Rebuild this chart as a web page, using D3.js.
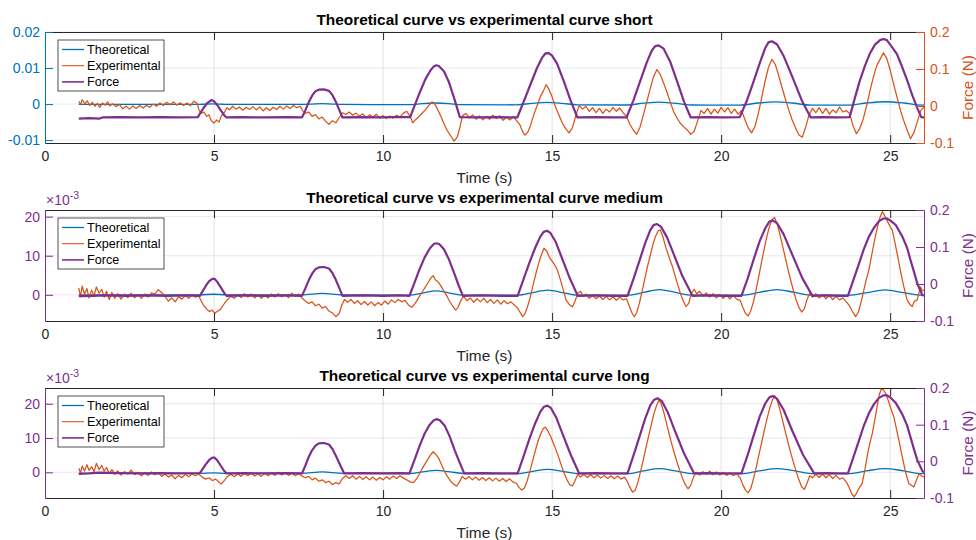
<!DOCTYPE html>
<html>
<head>
<meta charset="utf-8">
<script src="https://cdn.jsdelivr.net/npm/d3@7"></script>
<style>
  body { margin: 0; background: #fff; }
  svg { display: block; font-family: "Liberation Sans", Arial, sans-serif; }
</style>
</head>
<body>
<div id="chart"></div>
<script>
// ---- shared axis values ----
const timeDomain = [0, 26];
const xTicks = [0, 5, 10, 15, 20, 25];
const forceDomain = [-0.1, 0.2];
const forceTicks = [-0.1, 0, 0.1, 0.2];
const seriesNames = ["Theoretical", "Experimental", "Force"];

// ---- panel 1 : short (left values in 1e-3 m) ----
const theoShort = [[1.0,-0.1],[4.55,-0.1],[4.75,0.0],[4.95,0.05],[5.15,0.0],[5.4,-0.1],[7.6,-0.1],[7.9,0.0],[8.2,0.1],[8.5,0.0],[8.8,-0.1],[10.8,-0.15],[11.15,0.15],[11.55,0.3],[11.95,0.15],[12.3,-0.15],[13.95,-0.2],[14.4,0.2],[14.85,0.45],[15.3,0.2],[15.75,-0.2],[17.2,-0.25],[17.7,0.25],[18.15,0.55],[18.6,0.25],[19.1,-0.25],[20.55,-0.3],[21.1,0.3],[21.6,0.6],[22.1,0.3],[22.65,-0.3],[23.8,-0.3],[24.3,0.3],[24.85,0.65],[25.4,0.3],[25.9,-0.3],[26.0,-0.3]];

const expShort = [[1.0,0.8],[1.05,-0.2],[1.1,1.2],[1.18,0.1],[1.25,0.9],[1.32,-0.4],[1.4,0.5],[1.48,-0.6],[1.55,0.2],[1.62,-0.9],[1.7,0.3],[1.78,-0.3],[1.85,0.6],[1.92,-0.5],[2.0,0.1],[2.1,-0.7],[2.2,-0.1],[2.3,-1.3],[2.4,-0.6],[2.5,-1.4],[2.6,-0.5],[2.7,-1.2],[2.8,-0.4],[2.9,-1.1],[3.0,-0.3],[3.1,-0.9],[3.2,0.0],[3.3,-0.6],[3.4,0.3],[3.5,-0.4],[3.6,0.5],[3.7,-0.2],[3.8,0.6],[3.9,-0.3],[4.0,0.4],[4.1,-0.4],[4.2,0.3],[4.3,-0.5],[4.4,0.8],[4.5,0.2],[4.55,-1.5],[4.62,-2.6],[4.7,-2.2],[4.78,-3.4],[4.85,-3.0],[4.92,-4.6],[5.0,-5.3],[5.08,-4.4],[5.15,-5.0],[5.22,-3.2],[5.3,-2.4],[5.38,-1.0],[5.46,-1.6],[5.55,-0.6],[5.65,-1.4],[5.75,-0.8],[5.85,-1.7],[5.95,-0.9],[6.05,-1.5],[6.15,-0.7],[6.25,-1.6],[6.35,-0.8],[6.45,-1.9],[6.55,-1.0],[6.65,-1.8],[6.75,-0.9],[6.85,-1.5],[6.95,-0.6],[7.05,-1.4],[7.15,-0.5],[7.25,-1.2],[7.35,-0.4],[7.45,-1.0],[7.55,-0.6],[7.62,-1.8],[7.7,-2.6],[7.8,-2.2],[7.9,-3.4],[8.0,-2.9],[8.1,-4.1],[8.2,-3.6],[8.3,-4.8],[8.4,-5.6],[8.5,-4.6],[8.6,-5.2],[8.7,-3.8],[8.8,-2.4],[8.9,-2.9],[9.0,-2.2],[9.1,-3.1],[9.2,-2.5],[9.3,-3.4],[9.4,-2.7],[9.5,-3.8],[9.6,-3.0],[9.7,-3.6],[9.8,-2.8],[9.9,-3.9],[10.0,-3.2],[10.1,-4.0],[10.2,-3.3],[10.3,-3.9],[10.4,-3.1],[10.5,-3.6],[10.6,-2.5],[10.7,-2.0],[10.8,-3.4],[10.88,-5.2],[10.95,-4.4],[11.05,-3.6],[11.15,-2.6],[11.25,-1.6],[11.35,-0.4],[11.45,0.6],[11.52,0.2],[11.6,-1.2],[11.7,-3.2],[11.8,-5.4],[11.9,-7.4],[12.0,-8.8],[12.1,-10.3],[12.2,-9.0],[12.28,-6.2],[12.35,-3.2],[12.45,-2.6],[12.55,-3.8],[12.65,-3.0],[12.75,-4.2],[12.85,-3.3],[12.95,-4.4],[13.05,-3.4],[13.15,-4.2],[13.25,-3.1],[13.35,-4.0],[13.45,-3.2],[13.55,-4.5],[13.65,-3.6],[13.75,-4.4],[13.85,-3.5],[13.95,-4.6],[14.05,-5.8],[14.12,-7.5],[14.2,-8.6],[14.28,-7.8],[14.35,-6.2],[14.45,-3.2],[14.55,-0.6],[14.65,2.0],[14.75,3.8],[14.82,5.4],[14.9,4.2],[15.0,2.0],[15.1,-0.8],[15.2,-3.0],[15.3,-5.2],[15.4,-6.8],[15.5,-8.0],[15.6,-6.6],[15.7,-3.2],[15.8,-0.4],[15.9,-1.4],[16.0,-0.6],[16.1,-2.0],[16.2,-1.0],[16.3,-2.4],[16.4,-1.2],[16.5,-2.6],[16.6,-1.4],[16.7,-2.2],[16.8,-0.9],[16.9,-2.0],[17.0,-1.1],[17.1,-2.4],[17.2,-3.4],[17.3,-5.6],[17.4,-7.2],[17.5,-8.4],[17.6,-6.4],[17.7,-3.0],[17.8,0.6],[17.9,4.2],[18.0,7.6],[18.1,9.6],[18.2,8.2],[18.3,5.8],[18.4,3.2],[18.5,0.4],[18.6,-2.2],[18.7,-4.0],[18.8,-5.4],[18.9,-6.4],[19.0,-7.2],[19.1,-8.4],[19.2,-7.6],[19.3,-4.8],[19.4,-1.8],[19.5,-2.6],[19.6,-1.2],[19.7,-2.8],[19.8,-1.4],[19.9,-2.5],[20.0,-0.9],[20.1,-2.2],[20.2,-1.0],[20.3,-2.6],[20.4,-1.4],[20.5,-2.8],[20.6,-1.8],[20.7,-4.2],[20.8,-6.6],[20.9,-8.0],[21.0,-6.2],[21.1,-2.6],[21.2,1.8],[21.3,6.4],[21.4,10.2],[21.5,12.4],[21.6,11.0],[21.7,8.0],[21.8,4.6],[21.9,1.4],[22.0,-1.6],[22.1,-4.4],[22.2,-6.6],[22.3,-8.6],[22.4,-9.2],[22.5,-6.4],[22.6,-3.0],[22.7,-1.2],[22.8,-2.4],[22.9,-1.0],[23.0,-2.6],[23.1,-1.2],[23.2,-2.8],[23.3,-1.6],[23.4,-2.4],[23.5,-0.8],[23.6,-2.2],[23.7,-1.8],[23.8,-2.6],[23.9,-6.0],[24.0,-8.2],[24.1,-6.8],[24.2,-4.2],[24.3,-0.6],[24.4,3.6],[24.5,7.4],[24.6,10.6],[24.7,12.4],[24.8,14.2],[24.9,12.6],[25.0,9.4],[25.1,5.6],[25.2,2.0],[25.3,-1.6],[25.4,-4.6],[25.5,-7.2],[25.6,-9.6],[25.7,-8.0],[25.8,-5.0],[25.9,-1.8],[26.0,-0.8]];

const forceShort = [[1.0,-0.034],[1.3,-0.033],[1.6,-0.034],[1.7,-0.031],[2.2,-0.030],[2.8,-0.031],[3.4,-0.030],[4.0,-0.031],[4.52,-0.030],[4.6,-0.018],[4.7,-0.004],[4.8,0.008],[4.92,0.016],[5.0,0.013],[5.1,0.002],[5.2,-0.012],[5.3,-0.025],[5.37,-0.031],[5.8,-0.030],[6.5,-0.031],[7.2,-0.030],[7.6,-0.031],[7.7,-0.012],[7.8,0.010],[7.9,0.028],[8.0,0.040],[8.1,0.044],[8.25,0.045],[8.4,0.041],[8.5,0.030],[8.6,0.012],[8.7,-0.010],[8.8,-0.031],[9.3,-0.030],[9.9,-0.031],[10.4,-0.030],[10.8,-0.030],[10.95,0.005],[11.1,0.040],[11.25,0.072],[11.4,0.096],[11.5,0.107],[11.57,0.110],[11.65,0.108],[11.8,0.094],[11.95,0.064],[12.1,0.022],[12.27,-0.030],[12.8,-0.031],[13.4,-0.030],[13.97,-0.031],[14.15,0.010],[14.35,0.056],[14.55,0.102],[14.7,0.130],[14.8,0.142],[14.9,0.143],[15.0,0.136],[15.15,0.114],[15.35,0.066],[15.55,0.014],[15.75,-0.031],[16.3,-0.030],[16.8,-0.031],[17.2,-0.031],[17.4,0.014],[17.6,0.066],[17.8,0.118],[17.95,0.150],[18.05,0.162],[18.15,0.164],[18.3,0.155],[18.5,0.118],[18.7,0.066],[18.9,0.012],[19.1,-0.031],[19.6,-0.030],[20.1,-0.031],[20.55,-0.030],[20.75,0.012],[20.95,0.064],[21.15,0.118],[21.3,0.156],[21.4,0.172],[21.5,0.175],[21.65,0.167],[21.85,0.135],[22.1,0.080],[22.4,0.012],[22.65,-0.031],[23.0,-0.030],[23.5,-0.031],[23.8,-0.030],[23.95,0.020],[24.1,0.068],[24.25,0.108],[24.4,0.142],[24.55,0.166],[24.7,0.178],[24.8,0.181],[24.9,0.178],[25.05,0.160],[25.2,0.140],[25.36,0.104],[25.5,0.070],[25.65,0.030],[25.8,-0.005],[25.92,-0.030],[26.0,-0.031]];

// ---- panel 2 : medium ----
const theoMedium = [[1.0,0.0],[4.58,0.0],[4.98,0.15],[5.37,0.0],[7.6,-0.05],[8.2,0.35],[8.8,-0.05],[10.78,-0.1],[11.17,0.45],[11.57,1.0],[11.97,0.45],[12.36,-0.1],[13.98,-0.1],[14.42,0.55],[14.87,1.2],[15.32,0.55],[15.76,-0.1],[17.23,-0.1],[17.7,0.6],[18.17,1.35],[18.65,0.6],[19.15,-0.1],[20.6,-0.1],[21.12,0.6],[21.65,1.35],[22.18,0.6],[22.7,-0.1],[23.78,-0.1],[24.3,0.55],[24.85,1.25],[25.4,0.55],[25.95,-0.1],[26.0,-0.1]];

const expMedium = [[1.0,1.8],[1.05,-0.5],[1.1,2.2],[1.17,0.2],[1.24,1.6],[1.3,-0.8],[1.38,1.2],[1.45,-0.3],[1.52,2.0],[1.6,0.4],[1.68,1.4],[1.75,-0.6],[1.82,0.9],[1.9,-1.2],[1.98,0.6],[2.06,-0.9],[2.15,0.3],[2.25,-1.1],[2.35,0.2],[2.45,-0.7],[2.55,0.4],[2.65,-0.8],[2.75,0.1],[2.85,-0.9],[2.95,0.2],[3.05,-0.6],[3.15,0.5],[3.25,0.2],[3.35,1.3],[3.45,0.6],[3.55,-0.4],[3.65,-1.6],[3.75,-0.8],[3.85,-1.8],[3.95,-0.5],[4.05,-1.1],[4.15,-0.2],[4.25,-0.9],[4.35,0.0],[4.45,-0.6],[4.55,-0.3],[4.62,-1.6],[4.7,-2.8],[4.78,-3.6],[4.86,-4.3],[4.94,-3.9],[5.02,-4.7],[5.1,-4.2],[5.18,-3.8],[5.26,-2.8],[5.34,-1.8],[5.42,-1.0],[5.5,-0.4],[5.6,-0.9],[5.7,0.1],[5.8,-0.7],[5.9,0.3],[6.0,-0.6],[6.1,0.2],[6.2,-0.8],[6.3,0.0],[6.4,-0.9],[6.5,-0.1],[6.6,-0.8],[6.7,0.2],[6.8,-0.6],[6.9,0.3],[7.0,-0.5],[7.1,0.1],[7.2,-0.7],[7.3,0.4],[7.4,-0.4],[7.5,0.2],[7.6,-0.8],[7.7,-1.6],[7.8,-2.2],[7.9,-1.8],[8.0,-2.8],[8.1,-2.4],[8.2,-3.4],[8.3,-3.0],[8.4,-4.2],[8.5,-4.6],[8.6,-5.6],[8.7,-4.8],[8.78,-2.6],[8.86,-1.2],[8.95,-1.9],[9.05,-1.2],[9.15,-2.2],[9.25,-1.5],[9.35,-2.5],[9.45,-1.7],[9.55,-2.6],[9.65,-1.8],[9.75,-2.8],[9.85,-2.0],[9.95,-2.6],[10.05,-1.6],[10.15,-2.4],[10.25,-1.3],[10.35,-2.0],[10.45,-1.2],[10.55,-1.8],[10.65,-1.4],[10.75,-2.6],[10.85,-3.2],[10.95,-2.2],[11.05,-0.8],[11.15,0.6],[11.25,2.0],[11.35,3.4],[11.42,4.4],[11.48,4.9],[11.55,3.8],[11.62,3.4],[11.7,2.4],[11.78,1.2],[11.87,0.0],[11.95,-1.4],[12.05,-2.8],[12.15,-3.9],[12.22,-3.2],[12.3,-1.4],[12.38,-0.4],[12.48,-1.5],[12.58,-0.8],[12.68,-1.9],[12.78,-1.0],[12.88,-1.8],[12.98,-0.9],[13.08,-2.0],[13.18,-1.2],[13.28,-2.2],[13.38,-1.3],[13.48,-2.4],[13.58,-1.5],[13.68,-2.3],[13.78,-1.8],[13.88,-2.6],[13.98,-3.4],[14.06,-4.6],[14.13,-5.6],[14.2,-4.8],[14.28,-2.8],[14.36,-0.4],[14.44,2.6],[14.52,5.4],[14.6,8.0],[14.68,10.2],[14.76,11.9],[14.84,11.2],[14.92,9.6],[15.0,8.6],[15.08,7.6],[15.16,6.2],[15.24,4.0],[15.32,1.6],[15.41,-1.3],[15.5,-2.4],[15.6,-3.1],[15.68,-1.6],[15.76,0.4],[15.84,0.9],[15.92,-0.4],[16.0,0.2],[16.1,-0.9],[16.2,-0.2],[16.3,-1.0],[16.4,-0.3],[16.5,-1.2],[16.6,-0.4],[16.7,-1.3],[16.8,-0.5],[16.9,-1.4],[17.0,-0.6],[17.1,-1.3],[17.2,-1.0],[17.28,-2.8],[17.36,-4.6],[17.43,-5.6],[17.5,-4.6],[17.58,-2.2],[17.66,0.8],[17.74,4.0],[17.82,7.2],[17.9,10.0],[17.98,12.8],[18.06,15.0],[18.14,16.4],[18.2,16.6],[18.28,14.8],[18.36,12.2],[18.46,9.6],[18.56,7.2],[18.64,4.8],[18.72,2.4],[18.8,0.2],[18.88,-1.6],[18.96,-3.0],[19.04,-2.2],[19.12,0.4],[19.2,1.4],[19.28,0.2],[19.36,0.9],[19.46,-0.3],[19.56,0.5],[19.66,-0.6],[19.76,0.3],[19.86,-0.8],[19.96,0.1],[20.06,-0.9],[20.16,-0.1],[20.26,-1.0],[20.36,-0.2],[20.46,-1.1],[20.56,-1.4],[20.64,-3.2],[20.72,-4.8],[20.8,-5.4],[20.88,-4.0],[20.96,-1.6],[21.04,1.6],[21.12,5.0],[21.2,8.6],[21.28,12.0],[21.36,15.2],[21.44,17.8],[21.52,19.4],[21.58,19.8],[21.66,18.0],[21.74,15.4],[21.82,12.4],[21.9,9.4],[21.98,6.4],[22.06,3.6],[22.14,1.0],[22.22,-1.4],[22.3,-3.2],[22.38,-4.4],[22.46,-3.6],[22.54,-1.2],[22.62,0.4],[22.7,-0.6],[22.8,0.3],[22.9,-0.8],[23.0,0.0],[23.1,-1.0],[23.2,-0.2],[23.3,-1.2],[23.4,-0.4],[23.5,-1.3],[23.6,-0.8],[23.7,-1.8],[23.78,-2.6],[23.88,-4.2],[23.98,-5.6],[24.06,-4.4],[24.14,-1.8],[24.22,1.2],[24.3,4.2],[24.37,6.4],[24.45,10.0],[24.53,13.6],[24.61,16.8],[24.69,19.6],[24.77,21.3],[24.85,20.0],[24.93,18.6],[25.0,17.4],[25.06,16.6],[25.13,13.8],[25.2,10.8],[25.26,8.1],[25.33,5.0],[25.4,2.2],[25.5,-1.3],[25.58,-2.4],[25.65,-3.0],[25.72,-1.6],[25.8,-1.3],[25.86,0.8],[25.9,2.0],[25.95,1.0],[26.0,1.2]];

const forceMedium = [[1.0,-0.033],[1.4,-0.032],[1.8,-0.031],[2.4,-0.032],[3.0,-0.031],[3.6,-0.032],[4.2,-0.031],[4.58,-0.032],[4.66,-0.020],[4.75,-0.006],[4.85,0.007],[4.95,0.014],[5.02,0.014],[5.1,0.005],[5.2,-0.009],[5.3,-0.024],[5.37,-0.032],[5.9,-0.031],[6.5,-0.032],[7.1,-0.031],[7.6,-0.032],[7.7,-0.012],[7.8,0.010],[7.9,0.028],[8.0,0.040],[8.1,0.045],[8.25,0.046],[8.4,0.042],[8.5,0.030],[8.6,0.012],[8.7,-0.010],[8.8,-0.032],[9.4,-0.031],[10.0,-0.032],[10.5,-0.031],[10.78,-0.032],[10.93,0.004],[11.08,0.040],[11.23,0.072],[11.38,0.096],[11.5,0.108],[11.57,0.110],[11.66,0.108],[11.8,0.094],[11.95,0.066],[12.1,0.030],[12.22,0.000],[12.36,-0.032],[12.9,-0.031],[13.5,-0.032],[13.98,-0.032],[14.15,0.012],[14.33,0.058],[14.5,0.098],[14.65,0.128],[14.75,0.141],[14.85,0.144],[14.95,0.138],[15.1,0.115],[15.3,0.068],[15.52,0.016],[15.76,-0.032],[16.3,-0.031],[16.8,-0.032],[17.23,-0.032],[17.4,0.012],[17.58,0.062],[17.75,0.110],[17.9,0.145],[18.0,0.159],[18.1,0.162],[18.22,0.155],[18.4,0.126],[18.6,0.080],[18.85,0.022],[19.15,-0.032],[19.6,-0.031],[20.1,-0.032],[20.6,-0.032],[20.78,0.014],[20.96,0.066],[21.14,0.116],[21.3,0.150],[21.42,0.168],[21.52,0.172],[21.65,0.165],[21.85,0.134],[22.1,0.080],[22.4,0.016],[22.7,-0.032],[23.1,-0.031],[23.5,-0.032],[23.75,-0.032],[23.9,0.008],[24.08,0.056],[24.22,0.094],[24.37,0.128],[24.52,0.152],[24.67,0.170],[24.8,0.177],[24.9,0.177],[25.0,0.172],[25.16,0.160],[25.36,0.128],[25.5,0.098],[25.6,0.065],[25.7,0.034],[25.8,0.002],[25.95,-0.030],[26.0,-0.032]];

// ---- panel 3 : long ----
const theoLong = [[1.0,-0.3],[4.58,-0.3],[4.98,-0.15],[5.37,-0.3],[7.6,-0.3],[8.2,0.1],[8.8,-0.3],[10.78,-0.35],[11.17,0.15],[11.58,0.55],[11.98,0.15],[12.4,-0.35],[13.98,-0.4],[14.42,0.3],[14.87,0.85],[15.32,0.3],[15.8,-0.4],[17.23,-0.4],[17.7,0.4],[18.17,1.05],[18.65,0.4],[19.2,-0.4],[20.6,-0.4],[21.12,0.4],[21.65,1.1],[22.18,0.4],[22.75,-0.4],[23.75,-0.4],[24.3,0.4],[24.85,1.1],[25.4,0.4],[25.95,-0.4],[26.0,-0.4]];

const expLong = [[1.0,1.2],[1.05,-0.2],[1.1,1.8],[1.17,0.4],[1.24,2.2],[1.3,0.6],[1.38,1.6],[1.45,0.2],[1.52,2.6],[1.6,0.8],[1.68,2.0],[1.75,0.3],[1.82,1.4],[1.9,-0.4],[1.98,0.8],[2.06,-0.6],[2.15,0.4],[2.25,-0.8],[2.35,0.2],[2.45,-0.5],[2.55,0.6],[2.65,-0.7],[2.75,0.0],[2.85,-1.0],[2.95,-0.2],[3.05,-0.9],[3.15,0.1],[3.25,-0.7],[3.35,-0.1],[3.45,-1.2],[3.55,-0.5],[3.65,-1.4],[3.75,-0.8],[3.85,-1.9],[3.95,-0.9],[4.05,-1.6],[4.15,-0.6],[4.25,-1.3],[4.35,-0.4],[4.45,-1.0],[4.55,-0.5],[4.65,-1.4],[4.75,-2.0],[4.85,-1.6],[4.95,-2.4],[5.05,-2.0],[5.15,-2.9],[5.22,-3.4],[5.3,-2.4],[5.4,-1.2],[5.5,-0.6],[5.6,-1.3],[5.7,-0.4],[5.8,-1.2],[5.9,-0.3],[6.0,-1.0],[6.1,-0.2],[6.2,-1.1],[6.3,-0.4],[6.4,-1.2],[6.5,-0.3],[6.6,-1.0],[6.7,-0.2],[6.8,-0.9],[6.9,0.0],[7.0,-0.8],[7.1,-0.1],[7.2,-0.9],[7.3,-0.2],[7.4,-1.0],[7.5,-0.4],[7.6,-1.1],[7.7,-1.6],[7.8,-1.2],[7.9,-2.2],[8.0,-1.7],[8.1,-2.6],[8.2,-2.2],[8.3,-3.0],[8.4,-2.6],[8.5,-3.6],[8.6,-3.0],[8.7,-3.4],[8.8,-1.8],[8.9,-1.0],[9.0,-1.8],[9.1,-1.0],[9.2,-2.0],[9.3,-1.2],[9.4,-2.1],[9.5,-1.3],[9.6,-2.2],[9.7,-1.4],[9.8,-2.3],[9.9,-1.5],[10.0,-2.2],[10.1,-1.3],[10.2,-2.0],[10.3,-1.1],[10.4,-1.8],[10.5,-1.0],[10.6,-1.7],[10.7,-2.2],[10.8,-2.8],[10.9,-3.0],[11.0,-1.8],[11.1,0.0],[11.2,1.8],[11.3,3.4],[11.4,5.0],[11.48,6.0],[11.56,5.2],[11.64,4.2],[11.72,2.4],[11.8,0.6],[11.9,-1.2],[12.0,-2.6],[12.1,-3.6],[12.18,-4.0],[12.26,-2.8],[12.34,-1.2],[12.44,-2.0],[12.54,-1.2],[12.64,-2.2],[12.74,-1.4],[12.84,-2.3],[12.94,-1.5],[13.04,-2.4],[13.14,-1.6],[13.24,-2.5],[13.34,-1.7],[13.44,-2.6],[13.54,-1.8],[13.64,-2.7],[13.74,-1.9],[13.84,-2.8],[13.94,-3.2],[14.02,-4.4],[14.1,-5.2],[14.18,-4.6],[14.26,-2.6],[14.34,0.2],[14.42,3.2],[14.5,6.2],[14.58,9.0],[14.66,11.2],[14.74,12.8],[14.8,13.2],[14.88,12.0],[14.96,10.4],[15.04,8.4],[15.12,6.4],[15.2,4.2],[15.28,1.8],[15.36,-0.4],[15.44,-2.2],[15.52,-3.6],[15.6,-4.0],[15.68,-2.4],[15.76,-0.6],[15.84,-1.4],[15.94,-0.6],[16.04,-1.5],[16.14,-0.7],[16.24,-1.6],[16.34,-0.8],[16.44,-1.7],[16.54,-0.9],[16.64,-1.8],[16.74,-1.0],[16.84,-1.9],[16.94,-1.1],[17.04,-2.0],[17.14,-1.4],[17.22,-2.6],[17.3,-4.4],[17.38,-5.8],[17.46,-5.2],[17.54,-2.8],[17.62,0.4],[17.7,3.8],[17.78,7.4],[17.86,10.8],[17.94,14.2],[18.02,17.4],[18.1,19.8],[18.16,21.0],[18.22,20.2],[18.3,17.6],[18.38,14.4],[18.46,11.2],[18.54,8.2],[18.62,5.4],[18.7,2.8],[18.78,0.4],[18.86,-1.8],[18.94,-3.6],[19.02,-4.8],[19.1,-3.8],[19.18,-1.4],[19.26,0.0],[19.36,-0.8],[19.46,0.2],[19.56,-0.6],[19.66,0.3],[19.76,-0.7],[19.86,0.1],[19.96,-0.8],[20.06,0.0],[20.16,-0.9],[20.26,-0.2],[20.36,-1.0],[20.46,-0.4],[20.56,-1.6],[20.64,-3.6],[20.72,-5.2],[20.8,-6.0],[20.88,-4.6],[20.96,-1.8],[21.04,1.6],[21.12,5.2],[21.2,8.8],[21.28,12.4],[21.36,15.8],[21.44,18.8],[21.52,21.2],[21.58,22.4],[21.66,21.0],[21.74,18.2],[21.82,15.0],[21.9,11.8],[21.98,8.6],[22.06,5.6],[22.14,2.8],[22.22,0.2],[22.3,-2.2],[22.38,-4.2],[22.46,-5.0],[22.54,-3.2],[22.62,-1.0],[22.7,-1.6],[22.8,-0.6],[22.9,-1.5],[23.0,-0.5],[23.1,-1.6],[23.2,-0.7],[23.3,-1.8],[23.4,-0.9],[23.5,-2.0],[23.6,-1.6],[23.7,-2.8],[23.78,-4.3],[23.86,-6.2],[23.93,-7.2],[24.0,-6.2],[24.08,-4.6],[24.17,-3.3],[24.25,0.6],[24.32,4.8],[24.4,8.6],[24.47,11.3],[24.55,15.6],[24.62,19.6],[24.68,22.8],[24.74,24.4],[24.8,24.0],[24.86,23.2],[24.94,21.0],[25.02,18.6],[25.11,16.1],[25.2,12.0],[25.28,8.2],[25.36,4.4],[25.44,0.6],[25.55,-3.3],[25.62,-3.8],[25.7,-4.3],[25.78,-2.2],[25.85,-0.4],[25.92,-1.0],[26.0,-1.4]];

const forceLong = [[1.0,-0.034],[1.3,-0.033],[1.6,-0.031],[2.2,-0.032],[2.8,-0.033],[3.4,-0.032],[4.0,-0.033],[4.58,-0.032],[4.66,-0.021],[4.75,-0.009],[4.85,0.003],[4.95,0.010],[5.02,0.010],[5.1,0.002],[5.2,-0.012],[5.3,-0.026],[5.37,-0.033],[5.9,-0.032],[6.5,-0.033],[7.1,-0.032],[7.6,-0.033],[7.7,-0.012],[7.8,0.012],[7.9,0.030],[8.0,0.043],[8.1,0.049],[8.25,0.050],[8.4,0.046],[8.5,0.034],[8.6,0.016],[8.72,-0.008],[8.85,-0.033],[9.4,-0.032],[10.0,-0.033],[10.5,-0.032],[10.78,-0.033],[10.93,0.004],[11.08,0.042],[11.23,0.076],[11.38,0.100],[11.5,0.112],[11.58,0.115],[11.68,0.112],[11.82,0.098],[11.97,0.068],[12.12,0.030],[12.26,-0.002],[12.4,-0.033],[12.9,-0.032],[13.5,-0.033],[13.98,-0.033],[14.15,0.012],[14.33,0.062],[14.5,0.104],[14.65,0.135],[14.76,0.149],[14.86,0.152],[14.96,0.146],[15.12,0.120],[15.32,0.072],[15.55,0.018],[15.8,-0.033],[16.3,-0.032],[16.8,-0.033],[17.23,-0.033],[17.4,0.014],[17.58,0.066],[17.75,0.116],[17.9,0.152],[18.02,0.168],[18.12,0.172],[18.24,0.165],[18.42,0.134],[18.62,0.086],[18.9,0.022],[19.2,-0.033],[19.6,-0.032],[20.1,-0.033],[20.6,-0.033],[20.78,0.016],[20.96,0.070],[21.14,0.122],[21.3,0.157],[21.42,0.174],[21.52,0.178],[21.65,0.171],[21.85,0.140],[22.1,0.084],[22.42,0.018],[22.75,-0.033],[23.1,-0.032],[23.5,-0.033],[23.75,-0.033],[23.9,0.008],[24.08,0.058],[24.22,0.097],[24.37,0.131],[24.52,0.156],[24.67,0.173],[24.8,0.180],[24.9,0.180],[25.0,0.175],[25.16,0.160],[25.36,0.128],[25.5,0.098],[25.6,0.066],[25.7,0.034],[25.8,0.004],[25.95,-0.026],[26.0,-0.030]];

// colours (MATLAB default order + purple)
const blue = "#0072BD", orange = "#D95319", purple = "#7E2F8E", dark = "#262626";

// one entry per subplot
const panels = [
  { title: "Theoretical curve vs experimental curve short", top: 32, height: 111,
    leftDomain: [-10.8, 20], leftTicks: [-10, 0, 10, 20], leftFmt: v => String(v / 1000),
    exponent: false, leftColor: blue, rightColor: orange,
    theo: theoShort, exp: expShort, force: forceShort },
  { title: "Theoretical curve vs experimental curve medium", top: 210, height: 111,
    leftDomain: [-6.7, 21.7], leftTicks: [0, 10, 20], leftFmt: v => String(v),
    exponent: true, leftColor: purple, rightColor: purple,
    theo: theoMedium, exp: expMedium, force: forceMedium },
  { title: "Theoretical curve vs experimental curve long", top: 388, height: 110,
    leftDomain: [-7.5, 24.6], leftTicks: [0, 10, 20], leftFmt: v => String(v),
    exponent: true, leftColor: purple, rightColor: purple,
    theo: theoLong, exp: expLong, force: forceLong }
];

const width = 976, height = 540;
const plotLeft = 45, plotRight = 924;

const svg = d3.select("#chart")
  .append("svg")
    .attr("width", width)
    .attr("height", height);

const xScale = d3.scaleLinear()
  .domain(timeDomain)
  .range([plotLeft, plotRight]);

panels.forEach((p, i) => drawPanel(p, i));

/**
 * drawPanel
 *
 * Purpose: draws one yyaxis-style subplot (left displacement, right force).
 */
function drawPanel(p, i) {
  const top = p.top;
  const bottom = p.top + p.height;

  const yLeft = d3.scaleLinear().domain(p.leftDomain).range([bottom, top]);
  const yRight = d3.scaleLinear().domain(forceDomain).range([bottom, top]);

  const g = svg.append("g");

  // clip for the data lines
  svg.append("clipPath").attr("id", "clip" + i)
    .append("rect")
      .attr("x", plotLeft).attr("y", top)
      .attr("width", plotRight - plotLeft).attr("height", p.height);

  // grid
  g.append("g").selectAll("line")
    .data(xTicks.filter(t => t > timeDomain[0]))
    .join("line")
      .attr("x1", d => xScale(d)).attr("x2", d => xScale(d))
      .attr("y1", top).attr("y2", bottom)
      .attr("stroke", dark).attr("stroke-opacity", 0.13);
  g.append("g").selectAll("line")
    .data(p.leftTicks)
    .join("line")
      .attr("x1", plotLeft).attr("x2", plotRight)
      .attr("y1", d => yLeft(d)).attr("y2", d => yLeft(d))
      .attr("stroke", p.leftColor).attr("stroke-opacity", 0.13);

  // data lines
  const lines = g.append("g").attr("clip-path", "url(#clip" + i + ")").attr("fill", "none");
  const leftLine = d3.line().x(d => xScale(d[0])).y(d => yLeft(d[1]));
  const rightLine = d3.line().x(d => xScale(d[0])).y(d => yRight(d[1]));

  lines.append("path").datum(p.theo)
    .attr("d", leftLine.curve(d3.curveMonotoneX))
    .attr("stroke", blue).attr("stroke-width", 1.3);
  lines.append("path").datum(p.exp)
    .attr("d", d3.line().x(d => xScale(d[0])).y(d => yLeft(d[1])))
    .attr("stroke", orange).attr("stroke-width", 1.25).attr("stroke-linejoin", "round");
  lines.append("path").datum(p.force)
    .attr("d", rightLine)
    .attr("stroke", purple).attr("stroke-width", 2.2).attr("stroke-linejoin", "round");

  // axes
  g.append("g")
    .attr("transform", "translate(0," + bottom + ")")
    .attr("color", dark)
    .call(d3.axisBottom(xScale).tickValues(xTicks).tickSizeInner(-8).tickSizeOuter(0).tickPadding(8))
    .call(a => a.selectAll("text").attr("font-size", 14).attr("font-family", "Liberation Sans, Arial, sans-serif"));
  g.append("g")
    .attr("transform", "translate(0," + top + ")")
    .attr("color", dark)
    .call(d3.axisTop(xScale).tickValues(xTicks).tickSizeInner(-8).tickSizeOuter(0).tickFormat(""));

  g.append("g")
    .attr("transform", "translate(" + plotLeft + ",0)")
    .attr("color", p.leftColor)
    .call(d3.axisLeft(yLeft).tickValues(p.leftTicks).tickSizeInner(-8).tickSizeOuter(0).tickPadding(5).tickFormat(p.leftFmt))
    .call(a => a.selectAll("text").attr("font-size", 14).attr("font-family", "Liberation Sans, Arial, sans-serif"));

  g.append("g")
    .attr("transform", "translate(" + plotRight + ",0)")
    .attr("color", p.rightColor)
    .call(d3.axisRight(yRight).tickValues(forceTicks).tickSizeInner(-8).tickSizeOuter(0).tickPadding(6).tickFormat(d => String(d)))
    .call(a => a.selectAll("text").attr("font-size", 14).attr("font-family", "Liberation Sans, Arial, sans-serif"));

  // exponent label
  if (p.exponent) {
    const ex = g.append("text")
      .attr("x", plotLeft + 1).attr("y", top - 5)
      .attr("fill", p.leftColor).attr("font-size", 14);
    ex.append("tspan").text("\u00d710");
    ex.append("tspan").attr("dy", -6).attr("font-size", 10.5).text("-3");
  }

  // title
  g.append("text")
    .attr("x", (plotLeft + plotRight) / 2).attr("y", top - 12)
    .attr("dy", "0.35em")
    .attr("text-anchor", "middle")
    .attr("font-size", 15.4).attr("font-weight", "bold").attr("fill", "#000")
    .text(p.title);

  // x label
  g.append("text")
    .attr("x", (plotLeft + plotRight) / 2).attr("y", bottom + 35)
    .attr("dy", "0.35em")
    .attr("text-anchor", "middle")
    .attr("font-size", 15.4).attr("fill", dark)
    .text("Time (s)");

  // right label
  g.append("text")
    .attr("transform", "translate(968," + (top + bottom) / 2 + ") rotate(-90)")
    .attr("dy", "0.35em")
    .attr("text-anchor", "middle")
    .attr("font-size", 15.4).attr("fill", p.rightColor)
    .text("Force (N)");

  // legend
  const lx = plotLeft + 13, ly = top + 8;
  const legend = g.append("g").attr("transform", "translate(" + lx + "," + ly + ")");
  legend.append("rect")
    .attr("width", 106).attr("height", 51)
    .attr("fill", "#fff").attr("stroke", dark).attr("stroke-width", 0.8);
  const legendColors = [blue, orange, purple];
  const legendWidths = [1.3, 1.1, 1.6];
  seriesNames.forEach((name, k) => {
    const yy = 9.5 + k * 16.2;
    legend.append("line")
      .attr("x1", 4).attr("x2", 26).attr("y1", yy).attr("y2", yy)
      .attr("stroke", legendColors[k]).attr("stroke-width", legendWidths[k]);
    legend.append("text")
      .attr("x", 29).attr("y", yy).attr("dy", "0.35em")
      .attr("font-size", 12.6).attr("fill", "#000")
      .text(name);
  });
}
</script>
</body>
</html>
